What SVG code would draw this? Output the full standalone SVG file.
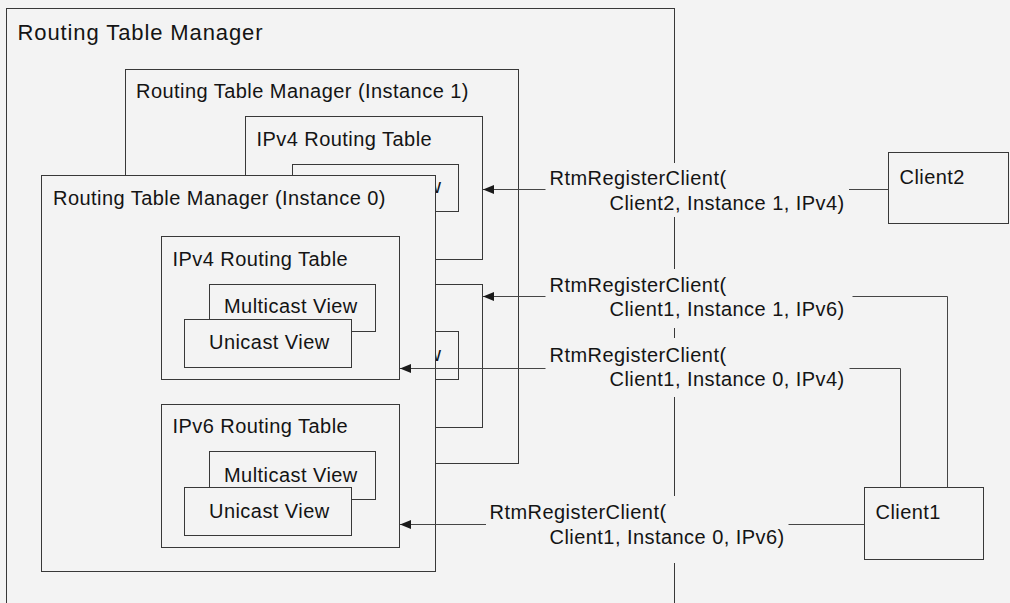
<svg xmlns="http://www.w3.org/2000/svg" width="1010" height="603" viewBox="0 0 1010 603">
  <style>
    .box { fill: #f3f3f3; stroke: #383838; stroke-width: 1; }
    .lbl { font-family: "Liberation Sans", Arial, sans-serif; font-size: 20px; letter-spacing: 0.45px; fill: #141414; }
    .big { font-size: 22px; letter-spacing: 0.9px; }
    .wire { fill: none; stroke: #454545; stroke-width: 1; }
    .mask { fill: #f3f3f3; stroke: none; }
  </style>
  <defs>
    <marker id="arrow" viewBox="0 0 11 9" refX="11" refY="4.5" markerWidth="11" markerHeight="9" markerUnits="userSpaceOnUse" orient="auto">
      <path d="M0,0 L11,4.5 L0,9 z" fill="#1a1a1a"/>
    </marker>
  </defs>

  <rect x="0" y="0" width="1010" height="603" fill="#f3f3f3"/>

  <!-- Outer manager frame (open past the lower edge) -->
  <g id="rtm">
    <rect class="box" x="6.5" y="8.5" width="668" height="640"/>
    <text class="lbl big" x="17.5" y="40">Routing Table Manager</text>
  </g>

  <!-- Instance 1 (behind) -->
  <g id="rtm-instance1">
    <rect class="box" x="125.5" y="69.5" width="393" height="394"/>
    <text class="lbl" x="136" y="98">Routing Table Manager (Instance 1)</text>
    <g id="inst1-ipv4">
      <rect class="box" x="245.5" y="116.5" width="237" height="143"/>
      <text class="lbl" x="256.5" y="145.5">IPv4 Routing Table</text>
      <rect class="box" x="292.5" y="164.5" width="166" height="47"/>
      <!-- only the tail of the view label clears the front instance -->
      <text class="lbl" x="396.5" y="193">View</text>
    </g>
    <g id="inst1-ipv6">
      <rect class="box" x="245.5" y="284.5" width="237" height="143"/>
      <rect class="box" x="292.5" y="331.5" width="166" height="48"/>
      <text class="lbl" x="396.5" y="360.5">View</text>
    </g>
  </g>

  <!-- Instance 0 (front) -->
  <g id="rtm-instance0">
    <rect class="box" x="41.5" y="175.5" width="394" height="396"/>
    <text class="lbl" x="53" y="205">Routing Table Manager (Instance 0)</text>
    <g id="inst0-ipv4">
      <rect class="box" x="161.5" y="236.5" width="238" height="143"/>
      <text class="lbl" x="172.5" y="265.5">IPv4 Routing Table</text>
      <rect class="box" x="209.5" y="284.5" width="166" height="47"/>
      <text class="lbl" x="224" y="313">Multicast View</text>
      <rect class="box" x="184.5" y="319.5" width="167" height="48"/>
      <text class="lbl" x="209" y="349">Unicast View</text>
    </g>
    <g id="inst0-ipv6">
      <rect class="box" x="161.5" y="404.5" width="238" height="143"/>
      <text class="lbl" x="172.5" y="433">IPv6 Routing Table</text>
      <rect class="box" x="209.5" y="451.5" width="166" height="48"/>
      <text class="lbl" x="224" y="481.5">Multicast View</text>
      <rect class="box" x="184.5" y="487.5" width="167" height="48"/>
      <text class="lbl" x="209" y="518">Unicast View</text>
    </g>
  </g>

  <!-- Clients -->
  <g id="client2">
    <rect class="box" x="888.5" y="152.5" width="120" height="71"/>
    <text class="lbl" x="899.5" y="183.5">Client2</text>
  </g>
  <g id="client1">
    <rect class="box" x="864.5" y="487.5" width="119" height="72"/>
    <text class="lbl" x="875.5" y="518.5">Client1</text>
  </g>

  <!-- Registration calls -->
  <g id="connectors">
    <g id="c2-inst1-ipv4">
      <path class="wire" d="M888.5,189.5 H483" marker-end="url(#arrow)"/>
      <rect class="mask" x="545.5" y="163" width="303.5" height="54"/>
      <text class="lbl" x="549.5" y="184.5">RtmRegisterClient(</text>
      <text class="lbl" x="609.5" y="209.5">Client2, Instance 1, IPv4)</text>
    </g>
    <g id="c1-inst1-ipv6">
      <path class="wire" d="M947.5,487.5 V296.5 H483" marker-end="url(#arrow)"/>
      <rect class="mask" x="545.5" y="269" width="307" height="59"/>
      <text class="lbl" x="549.5" y="291.5">RtmRegisterClient(</text>
      <text class="lbl" x="609.5" y="315.5">Client1, Instance 1, IPv6)</text>
    </g>
    <g id="c1-inst0-ipv4">
      <path class="wire" d="M900.5,487.5 V368.5 H400" marker-end="url(#arrow)"/>
      <rect class="mask" x="545.5" y="338" width="304" height="59"/>
      <text class="lbl" x="549.5" y="361.5">RtmRegisterClient(</text>
      <text class="lbl" x="609.5" y="385.5">Client1, Instance 0, IPv4)</text>
    </g>
    <g id="c1-inst0-ipv6">
      <path class="wire" d="M864.5,524.5 H400" marker-end="url(#arrow)"/>
      <rect class="mask" x="486" y="496" width="302.5" height="67"/>
      <text class="lbl" x="489.5" y="518.5">RtmRegisterClient(</text>
      <text class="lbl" x="549.5" y="543.5">Client1, Instance 0, IPv6)</text>
    </g>
  </g>
</svg>
